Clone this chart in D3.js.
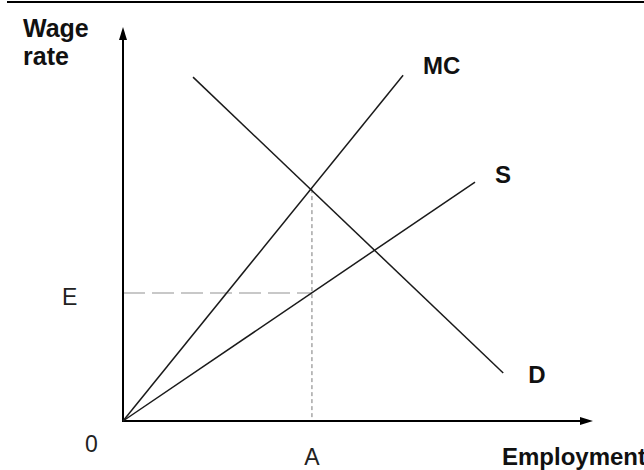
<!DOCTYPE html>
<html>
<head>
  <meta charset="utf-8">
  <script src="https://cdn.jsdelivr.net/npm/d3@7"></script>
  <style>
body { margin: 0; background: #fff; }
.curve { fill: none; stroke: #1a1a1a; stroke-width: 1.5px; }
.axis-line { stroke: #000; stroke-width: 2px; }
.lbl-bold { font: bold 24px "Liberation Sans", Arial, sans-serif; fill: #111; }
.lbl-reg { font: 23px "Liberation Sans", Arial, sans-serif; fill: #222; }
  </style>
</head>
<body>
  <svg width="644" height="470"></svg>
  <script>

// curves as [employment, wage] end points
const curveNames = ["MC", "S", "D"];
const mcPoints = [[0, 0], [5.96, 8.8]];
const sPoints = [[0, 0], [7.49, 6.08]];
const dPoints = [[1.49, 8.75], [8.09, 1.22]];

// equilibrium values
const employmentA = 4.02;
const wageAtMC = 5.9;
const wageE = 3.26;

const tickLabels = ["0", "E", "A"];
const axisTitles = ["Wage", "rate", "Employment"];

var svg = d3.select("svg");

var x = d3.scaleLinear().domain([0, 10]).range([123, 593]);
var y = d3.scaleLinear().domain([0, 10]).range([421, 28]);

var line = d3.line()
             .x(d => x(d[0]))
             .y(d => y(d[1]));

// top border
svg.append("line")
   .attr("x1", 7).attr("x2", 644)
   .attr("y1", 2).attr("y2", 2)
   .attr("stroke", "#000")
   .attr("stroke-width", 2);

// dashed guides
svg.append("line")
   .attr("x1", x(0)).attr("x2", x(employmentA))
   .attr("y1", y(wageE)).attr("y2", y(wageE))
   .attr("stroke", "#c8c8c8")
   .attr("stroke-width", 2)
   .attr("stroke-dasharray", "22,7");

svg.append("line")
   .attr("x1", x(employmentA)).attr("x2", x(employmentA))
   .attr("y1", y(wageAtMC)).attr("y2", y(0))
   .attr("stroke", "#7a7a7a")
   .attr("stroke-width", 1)
   .attr("stroke-dasharray", "4,3");

// axes with arrow heads
svg.append("line")
   .attr("class", "axis-line")
   .attr("x1", x(0)).attr("x2", x(0))
   .attr("y1", y(0) + 1).attr("y2", y(10) + 8);
svg.append("path")
   .attr("d", `M${x(0)},${y(10) - 1} l-4,13 l8,0 Z`)
   .attr("fill", "#000");

svg.append("line")
   .attr("class", "axis-line")
   .attr("x1", x(0) - 1).attr("x2", x(10) - 8)
   .attr("y1", y(0)).attr("y2", y(0));
svg.append("path")
   .attr("d", `M${x(10)},${y(0)} l-13,-4 l0,8 Z`)
   .attr("fill", "#000");

// curves
var curves = [mcPoints, sPoints, dPoints];
var labelOffset = [[20, -1], [20, 1], [25, 10]];

svg.selectAll(".curve")
   .data(curves)
   .enter().append("path")
   .attr("class", "curve")
   .attr("d", line);

svg.selectAll(".curve-label")
   .data(curveNames)
   .enter().append("text")
   .attr("class", "lbl-bold")
   .attr("x", (d, i) => x(curves[i][1][0]) + labelOffset[i][0])
   .attr("y", (d, i) => y(curves[i][1][1]) + labelOffset[i][1])
   .text(d => d);

// tick labels
svg.append("text").attr("class", "lbl-reg")
   .attr("x", 85).attr("y", y(0) + 31)
   .text(tickLabels[0]);
svg.append("text").attr("class", "lbl-reg")
   .attr("x", 62).attr("y", y(wageE) + 12)
   .text(tickLabels[1]);
svg.append("text").attr("class", "lbl-reg")
   .attr("x", x(employmentA)).attr("y", y(0) + 44)
   .attr("text-anchor", "middle")
   .text(tickLabels[2]);

// axis titles
svg.append("text").attr("class", "lbl-bold")
   .attr("x", 23).attr("y", 37)
   .style("font-size", "25px")
   .text(axisTitles[0]);
svg.append("text").attr("class", "lbl-bold")
   .attr("x", 23).attr("y", 65)
   .style("font-size", "25px")
   .text(axisTitles[1]);
// runs past the right edge, as in the reference
svg.append("text").attr("class", "lbl-bold")
   .attr("x", 502).attr("y", 465)
   .text(axisTitles[2]);

</script>
</body>
</html>
